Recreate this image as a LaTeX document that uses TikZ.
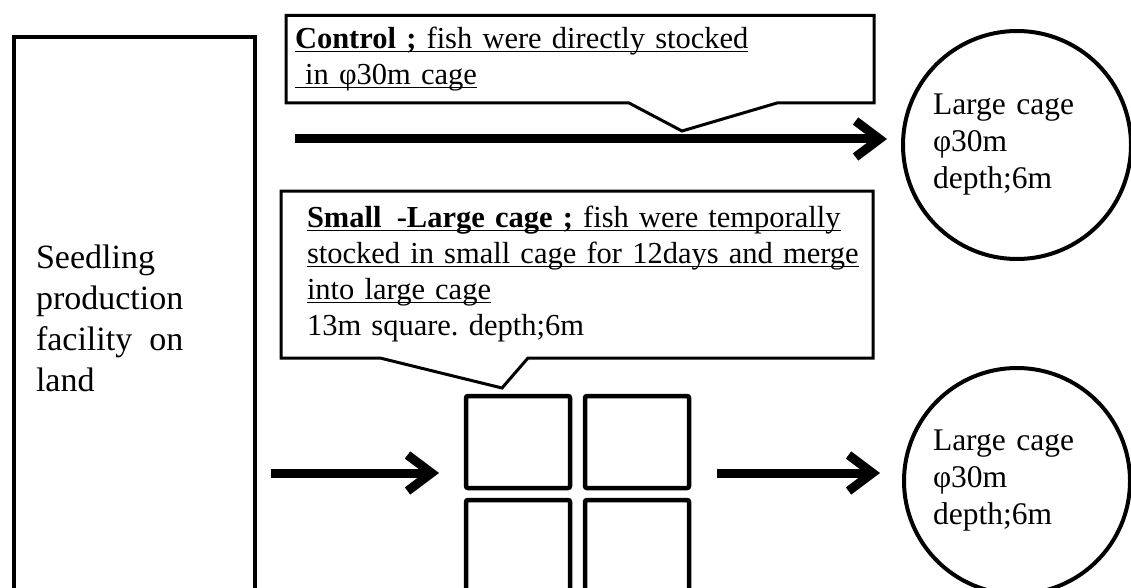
\documentclass[tikz,border=0pt]{standalone}
\usepackage{fontspec}
\setmainfont{Liberation Serif}
\usepackage{tikz}
\usetikzlibrary{positioning, calc, arrows.meta}
\frenchspacing
\newsavebox\undlbox
\newcommand{\undl}[1]{\leavevmode\sbox\undlbox{#1}\rlap{\rule[-3.5pt]{\wd\undlbox}{1.3pt}}\usebox\undlbox}

\begin{document}
\begin{tikzpicture}[x=1pt, y=-1pt, outer sep=0pt]
  \tikzset{
    seedbox/.style={rectangle, draw, line width=4.5pt, align=left,
      font=\fontsize{34}{41}\selectfont},
    note/.style={rectangle, align=left, font=\fontsize{30.5}{36}\selectfont},
    rim/.style={line width=3pt, line join=miter},
    cage/.style={circle, draw, line width=4pt, align=left, text width=168pt,
      inner sep=0pt, font=\fontsize{31.5}{37}\selectfont},
    sqcage/.style={rectangle, rounded corners=2pt, draw, line width=4.5pt,
      minimum width=104pt, minimum height=92pt},
    flow/.style={line width=9pt, -{Straight Barb[length=24pt, width=36pt]}},
  }
  \path[use as bounding box, fill=white] (0,0) rectangle (1131,588);

  \node[seedbox, anchor=north west, minimum width=241pt, minimum height=563pt,
        text width=197pt, inner xsep=22pt] (seed) at (14,37)
        {Seedling\\production\\facility\ \,on\\land};

  \node[note, anchor=north west, minimum width=588pt, minimum height=87.5pt,
        text width=570pt, inner xsep=9pt] (ctrl) at (286,15.5)
        {\undl{\textbf{Control ;} fish were directly stocked}\\
         \undl{\ in φ30m\ cage}};
  \coordinate (ctip) at (682,131);
  \draw[rim] (ctrl.south west) -- (ctrl.north west) -- (ctrl.north east)
    -- (ctrl.south east) -- ($(ctrl.south west)+(491,0)$) -- (ctip)
    -- ($(ctrl.south west)+(343,0)$) -- cycle;

  \node[note, anchor=north west, minimum width=592pt, minimum height=167pt,
        text width=540pt, inner xsep=26pt] (sml) at (281,191)
        {\undl{\textbf{Small\ \,-Large cage ;} fish were temporally}\\
         \undl{stocked in small cage for 12days and merge}\\
         \undl{into large cage}\\
         13m square. depth;6m};
  \coordinate (stip) at (502,388);
  \draw[rim] (sml.south west) -- (sml.north west) -- (sml.north east)
    -- (sml.south east) -- ($(sml.south west)+(247,0)$) -- (stip)
    -- ($(sml.south west)+(99,0)$) -- cycle;

  \node[cage, minimum size=228pt] (big1) at (1017,145) {Large cage\\φ30m\\depth;6m};
  \node[cage, minimum size=226pt] (big2) at (1017,481) {Large cage\\φ30m\\depth;6m};

  \node[sqcage] (q1) at (518,442) {};
  \node[sqcage, right=15pt of q1] (q2) {};
  \node[sqcage, below=12pt of q1] (q3) {};
  \node[sqcage, below=12pt of q2] (q4) {};

  \coordinate (cin) at (295,139);
  \coordinate (sin) at (271,473);
  \draw[flow, shorten >=16pt] (cin) -- (cin -| big1.west);
  \draw[flow, shorten >=27pt] (sin) -- (sin -| q1.west);
  \draw[flow, shorten <=28pt, shorten >=24pt] (sin -| q2.east) -- (sin -| big2.west);
\end{tikzpicture}
\end{document}
